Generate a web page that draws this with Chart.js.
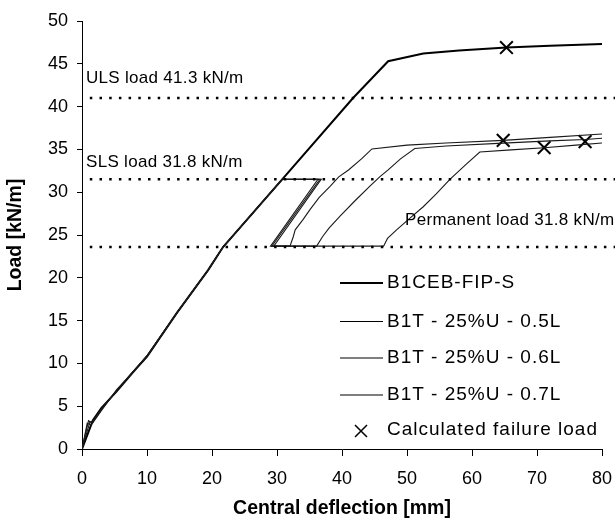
<!DOCTYPE html>
<html lang="en">
<head>
    <meta charset="UTF-8">
    <title>Load vs central deflection</title>
    <script src="https://cdn.jsdelivr.net/npm/chart.js"></script>
    <style>
        html, body { margin: 0; padding: 0; background: #fff; }
        #wrap { width: 615px; height: 524px; }
    </style>
</head>
<body>
<div id="wrap"><canvas id="loadChart" width="615" height="524"></canvas></div>

<script>
// values
const mainX = [0, 1.7, 3, 5.3, 8, 10, 14.6, 19.4, 21.7, 30.8, 41.7, 47.1, 52.5, 58, 65.3, 72, 80];
const mainY = [0, 3.4, 4.8, 6.7, 9.1, 10.8, 15.9, 20.9, 23.6, 31.5, 41.0, 45.3, 46.2, 46.55, 46.9, 47.1, 47.3];

const t05X = [0, 1, 1.6, 3, 5.3, 10, 14.6, 19.4, 21.7, 30.8, 36.3, 29.0, 32.0, 32.5, 32.8, 34, 35.1, 36.5, 38.2, 39.5, 41, 43, 44.6, 50, 56, 64.8, 72, 80];
const t05Y = [0, 3.3, 3.0, 4.6, 6.8, 10.9, 15.9, 20.9, 23.6, 31.5, 31.5, 23.7, 23.7, 24.8, 25.6, 26.8, 28.0, 29.4, 30.7, 31.8, 32.6, 33.9, 35.05, 35.5, 35.75, 36.06, 36.4, 36.8];

const t06X = [0, 0.8, 1.4, 3, 5.3, 10, 14.6, 19.4, 21.7, 30.8, 36.8, 29.5, 36.1, 37, 38, 39.7, 42, 44.3, 45.8, 47.1, 49, 51.2, 56, 64, 72, 77.4, 80];
const t06Y = [0, 3.0, 2.8, 4.5, 6.9, 10.8, 15.9, 20.9, 23.6, 31.5, 31.5, 23.7, 23.7, 24.8, 25.8, 27.2, 29.0, 30.7, 31.8, 32.6, 33.9, 35.1, 35.4, 35.7, 36.0, 36.15, 36.3];

const t07X = [0, 1.2, 1.7, 3, 5.3, 10, 14.6, 19.4, 21.7, 30.8, 36.6, 29.2, 46.4, 47, 48.4, 50.5, 52.5, 54.5, 56.6, 59, 61.2, 66, 71.1, 76, 80];
const t07Y = [0, 3.1, 3.3, 4.7, 6.8, 10.9, 15.9, 20.9, 23.6, 31.5, 31.5, 23.7, 23.7, 24.6, 25.6, 27.0, 28.3, 29.8, 31.5, 33.2, 34.7, 34.95, 35.2, 35.5, 35.75];

const failX = [65.3, 64.8, 71.1, 77.4];
const failY = [46.9, 36.06, 35.2, 35.9];

const levelNames = ["ULS load 41.3 kN/m", "SLS load 31.8 kN/m", "Permanent load 31.8 kN/m"];
const levelY = [41.0, 31.5, 23.6];

const seriesNames = ["B1CEB-FIP-S", "B1T - 25%U - 0.5L", "B1T - 25%U - 0.6L", "B1T - 25%U - 0.7L"];
const markerName = "Calculated failure load";

const xTicks = [0, 10, 20, 30, 40, 50, 60, 70, 80];
const yTicks = [0, 5, 10, 15, 20, 25, 30, 35, 40, 45, 50];

function pts(xs, ys) {
    return xs.map((x, i) => ({ x: x, y: ys[i] }));
}

const FONT = "'Liberation Sans', Arial, sans-serif";

let datasets = [];

levelY.forEach(function (v) {
    datasets.push({
        data: [{ x: 1.2, y: v }, { x: 82, y: v }],
        showLine: true,
        borderColor: "#000",
        borderWidth: 2.5,
        borderDash: [2.5, 7.2],
        pointRadius: 0,
        clip: { left: 0, top: 0, right: 14, bottom: 0 }
    });
});

[[t05X, t05Y], [t06X, t06Y], [t07X, t07Y]].forEach(function (s) {
    datasets.push({
        data: pts(s[0], s[1]),
        showLine: true,
        borderColor: "#1a1a1a",
        borderWidth: 1.1,
        pointRadius: 0,
        tension: 0
    });
});

datasets.push({
    data: pts(mainX, mainY),
    showLine: true,
    borderColor: "#000",
    borderWidth: 2,
    pointRadius: 0
});

datasets.push({
    data: pts(failX, failY),
    showLine: false,
    pointStyle: "crossRot",
    pointRadius: 9,
    borderColor: "#000",
    borderWidth: 2
});

// texts on the lines and the legend inside the plot
const labelsPlugin = {
    id: "labelsPlugin",
    afterDatasetsDraw(chart) {
        const ctx = chart.ctx;
        const xs = chart.scales.x;
        const ys = chart.scales.y;
        ctx.save();
        ctx.fillStyle = "#000";
        ctx.font = "17px " + FONT;
        ctx.letterSpacing = "0.3px";
        ctx.textAlign = "left";
        ctx.textBaseline = "middle";
        ctx.fillText(levelNames[0], chart.chartArea.left + 4, ys.getPixelForValue(levelY[0]) - 20);
        ctx.fillText(levelNames[1], chart.chartArea.left + 4, ys.getPixelForValue(levelY[1]) - 17);
        ctx.fillText(levelNames[2], xs.getPixelForValue(49.7), ys.getPixelForValue(levelY[2]) - 27);

        // legend
        const rows = [283, 321.5, 358, 395];
        ctx.font = "19px " + FONT;
        ctx.letterSpacing = "1px";
        seriesNames.forEach(function (name, i) {
            ctx.beginPath();
            ctx.lineWidth = i === 0 ? 2 : 1.1;
            ctx.strokeStyle = "#000";
            ctx.moveTo(340, rows[i]);
            ctx.lineTo(383, rows[i]);
            ctx.stroke();
            ctx.fillText(name, 387, rows[i]);
        });
        const my = 431, mx = 361, r = 6;
        ctx.beginPath();
        ctx.lineWidth = 1.5;
        ctx.moveTo(mx - r, my - r); ctx.lineTo(mx + r, my + r);
        ctx.moveTo(mx + r, my - r); ctx.lineTo(mx - r, my + r);
        ctx.stroke();
        ctx.fillText(markerName, 387, 430);
        ctx.restore();
    }
};

new Chart(document.getElementById("loadChart"), {
    type: "scatter",
    data: { datasets: datasets },
    options: {
        responsive: false,
        animation: false,
        layout: { padding: { left: 0, right: 13, top: 21, bottom: 0 } },
        plugins: {
            legend: { display: false },
            tooltip: { enabled: false }
        },
        scales: {
            x: {
                type: "linear",
                min: 0,
                max: 80,
                afterFit(scale) {
                    scale.height = 75;
                    scale.paddingLeft = 0;
                    scale.paddingRight = 0;
                },
                afterBuildTicks(scale) { scale.ticks = xTicks.map(v => ({ value: v })); },
                border: { display: true, color: "#000", width: 1 },
                grid: { drawOnChartArea: false, drawTicks: true, tickLength: 7, color: "#000" },
                ticks: { color: "#000", font: { family: FONT, size: 18 }, padding: 12, maxRotation: 0 },
                title: {
                    display: true,
                    text: "Central deflection [mm]",
                    color: "#000",
                    font: { family: FONT, size: 19.5, weight: "bold" },
                    padding: { top: 0, bottom: 4 }
                }
            },
            y: {
                type: "linear",
                min: 0,
                max: 50,
                afterFit(scale) {
                    scale.width = 82;
                    scale.paddingTop = 0;
                    scale.paddingBottom = 0;
                },
                afterBuildTicks(scale) { scale.ticks = yTicks.map(v => ({ value: v })); },
                border: { display: true, color: "#000", width: 1 },
                grid: { drawOnChartArea: false, drawTicks: true, tickLength: 5, color: "#000" },
                ticks: { color: "#000", font: { family: FONT, size: 18 }, padding: 9 },
                title: {
                    display: true,
                    text: "Load [kN/m]",
                    color: "#000",
                    font: { family: FONT, size: 19.5, weight: "bold" },
                    padding: { top: 4, bottom: 0 }
                }
            }
        }
    },
    plugins: [labelsPlugin]
});
</script>
</body>
</html>
